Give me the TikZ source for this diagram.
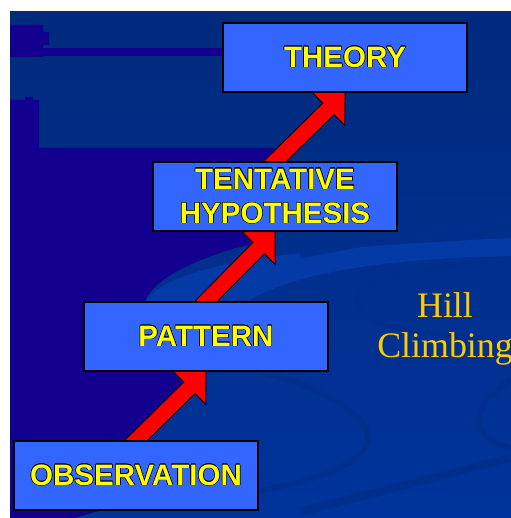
\documentclass[tikz,border=0pt]{standalone}
\usepackage{fontspec}
\setmainfont{Liberation Serif}
\setsansfont{Liberation Sans}
\usepackage{contour}
\usetikzlibrary{calc,backgrounds}
\definecolor{slideblue}{RGB}{0,52,156}
\definecolor{slidetop}{RGB}{0,42,124}
\definecolor{slideindigo}{RGB}{19,0,143}
\definecolor{swirldark}{RGB}{0,46,140}
\definecolor{swirllight}{RGB}{4,58,166}
\definecolor{boxblue}{RGB}{51,102,255}
\definecolor{labelyellow}{RGB}{255,255,0}
\definecolor{hillgold}{RGB}{255,204,0}
\contourlength{0.35pt}

\tikzset{
  stepbox/.style={draw=black, line width=0.8pt, fill=boxblue, minimum width=6.1cm, minimum height=1.725cm,
    inner sep=0pt, align=center, text=labelyellow, font=\sffamily\bfseries\fontsize{21}{24.5}\selectfont},
  climbarrow/.style={draw=black, line width=0.6pt, fill=red, line join=miter},
  hilltext/.style={inner sep=0pt, align=center, text=hillgold, font=\rmfamily\fontsize{25.5}{29}\selectfont},
}

% block arrow from #1 (tail, hidden in the lower box) to #2 (tip)
\newcommand{\climb}[2]{%
  \coordinate (tl) at ($(#1)!-4mm!(#2)$);
  \coordinate (hb) at ($(#2)!5.8mm!(#1)$);
  \draw[climbarrow] ($(tl)!2mm!90:(#2)$) -- ($(hb)!2mm!90:(#2)$) -- ($(hb)!5.8mm!90:(#2)$) -- (#2)
    -- ($(hb)!5.8mm!-90:(#2)$) -- ($(hb)!2mm!-90:(#2)$) -- ($(tl)!2mm!-90:(#2)$) -- cycle;
}

\begin{document}
\begin{tikzpicture}[x=0.025cm, y=-0.025cm]
\useasboundingbox (0,0) rectangle (511,518);

% Gradini
\node[stepbox] (obs)  at (136,475.5) {\contour{black}{OBSERVATION}};
\node[stepbox] (pat)  at (206,336.5) {\contour{black}{PATTERN}};
\node[stepbox] (hyp)  at (275,196.5) {\contour{black}{TENTATIVE}\\\contour{black}{HYPOTHESIS}};
\node[stepbox] (theo) at (345,57.5)  {\contour{black}{THEORY}};

% Testo a destra
\node[hilltext] (hill) at (445,329) {Hill\\Climbing};

% Sfondo della diapositiva
\begin{scope}[on background layer]
\shade[top color=slidetop, bottom color=slideblue] (10,12) rectangle (511,518);
\fill[swirllight] (145,302) .. controls (170,262) and (300,248) .. (511,238) -- (511,256)
  .. controls (400,258) and (300,270) .. (250,300) -- cycle;
\draw[swirldark, line width=4pt] (300,256) .. controls (380,240) and (450,226) .. (511,222);
\draw[swirldark, line width=4pt] (511,264) .. controls (420,264) and (345,282) .. (358,306)
  .. controls (368,328) and (430,336) .. (511,340);
\draw[swirldark, line width=4pt] (262,372) .. controls (340,392) and (385,428) .. (362,452)
  .. controls (342,474) and (300,482) .. (255,492);
\draw[swirldark, line width=4pt] (511,380) .. controls (470,405) and (468,438) .. (511,448);
\draw[swirldark, line width=6pt] (300,512) -- (511,458);
% zone indaco a sinistra
\fill[slideindigo] (10,25) rectangle (43,57) (43,32) rectangle (49,45);
\fill[slideindigo] (10,48) rectangle (222,56);
\fill[slideindigo] (10,100) rectangle (39,148) (25,97) rectangle (33,100);
\fill[slideindigo] (10,148) -- (275,148) -- (275,240) -- (235,248)
  .. controls (190,262) and (152,280) .. (145,302) -- (206,330) -- (206,371) -- (136,441)
  -- (136,500) -- (75,518) -- (10,518) -- cycle;
\end{scope}

% Frecce rosse
\begin{scope}[on background layer]
\foreach \a/\b in {obs/pat, pat/hyp, hyp/theo}{
  \climb{\a.north}{\b.south}
}
\end{scope}

\end{tikzpicture}
\end{document}
